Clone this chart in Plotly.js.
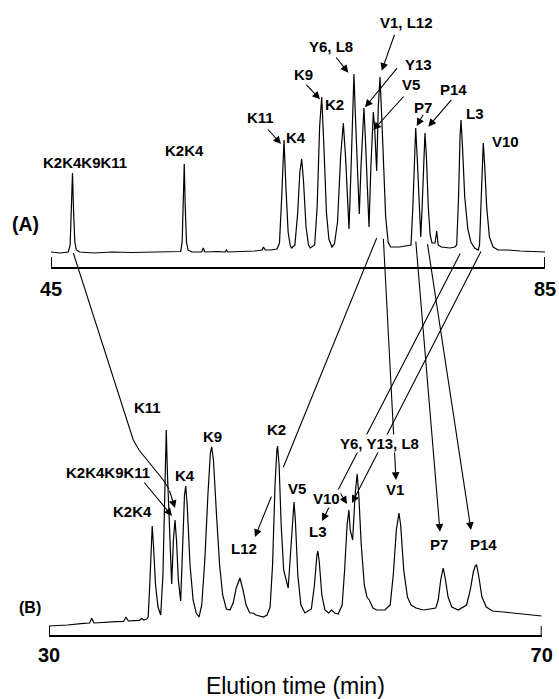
<!DOCTYPE html>
<html><head><meta charset="utf-8">
<script src="https://cdn.plot.ly/plotly-3.0.1.min.js"></script>
<style>html,body{margin:0;padding:0;background:#fff}#chart{width:559px;height:699px}</style>
</head><body><div id="chart"></div>
<script>
// ---------- DATA ----------
// Panel (A): elution time (min) and detector signal (arbitrary units)
const timeA = [45.00,45.70,46.40,46.55,46.65,46.74,46.83,46.93,47.05,47.30,48.50,50.00,51.50,53.00,54.50,
  55.50,55.62,55.72,55.79,55.87,55.97,56.10,56.40,57.20,57.33,57.45,58.50,59.10,59.20,59.30,60.50,61.50,62.10,62.20,62.35,62.80,
  63.30,63.50,63.68,63.87,64.02,64.20,64.38,64.50,64.75,64.98,65.15,65.30,65.45,65.65,65.85,66.00,
  66.35,66.55,66.75,66.92,67.10,67.30,67.50,67.75,67.95,68.20,68.45,68.67,68.85,69.00,69.13,
  69.30,69.45,69.53,69.62,69.80,69.96,70.10,70.25,70.34,70.45,70.60,70.75,70.90,71.02,71.10,71.20,71.37,
  71.50,71.64,71.78,71.95,72.10,72.30,72.50,73.20,73.80,74.15,74.30,74.45,74.53,74.65,74.80,74.94,
  75.05,75.18,75.28,75.40,75.55,75.70,75.85,76.10,76.23,76.35,76.60,77.30,77.70,77.85,78.00,78.12,78.20,
  78.32,78.50,78.75,79.00,79.30,79.60,79.70,79.82,79.93,80.00,80.10,80.28,80.50,80.80,81.20,82.00,83.00,84.00,85.00];
const signalA = [15,14,15,22,60,94,55,25,17,15,14,15,14.5,15,15.5,
  15.5,25,70,103,60,25,17,15,15,19,15,15.5,15,17,15,15.5,16,17,20,17,17,
  18,24,70,127,80,35,21,19,22,55,95,108,85,40,22,19,
  22,60,140,170,120,55,28,20,23,45,110,144,110,65,38,
  100,170,193,160,95,53,100,145,159,130,80,40,100,140,155,140,96,
  160,190,150,90,50,25,20,20,21,22,60,125,139,110,60,30,
  60,115,134,110,60,32,24,24,36,22,20,19,20,22,70,130,147,
  120,70,38,25,19,17,22,60,110,124,105,60,30,20,17,17,16,15.5,15];

// Panel (B)
const timeB = [30.00,31.50,32.80,33.30,33.47,33.65,35.50,36.05,36.25,36.45,36.84,37.35,37.52,37.70,37.93,
  38.05,38.18,38.30,38.38,38.48,38.65,38.85,39.07,39.25,39.42,39.52,39.62,39.80,39.96,
  40.10,40.23,40.35,40.50,40.69,40.85,41.00,41.10,41.22,41.45,41.70,41.95,42.18,
  42.40,42.65,42.90,43.10,43.21,43.35,43.60,43.85,44.10,44.40,44.69,44.95,45.20,45.50,45.75,46.00,46.30,46.56,46.80,47.40,
  47.70,47.95,48.15,48.35,48.50,48.56,48.68,48.85,49.05,49.42,49.60,49.80,49.89,50.00,50.20,50.45,50.78,
  51.30,51.55,51.75,51.83,51.95,52.15,52.40,52.70,52.95,53.20,53.48,53.80,54.00,54.20,54.35,54.45,54.65,
  54.85,55.02,55.15,55.35,55.60,55.81,56.00,56.30,56.60,57.27,57.70,57.95,58.20,58.41,58.55,58.80,59.10,59.40,59.80,
  60.40,61.00,61.40,61.60,61.80,62.00,62.15,62.40,62.70,63.22,63.50,63.90,64.20,64.45,64.60,64.72,64.90,65.15,65.50,66.00,66.88,68.50,70.00];
const signalB = [9,10,11.7,12,16.7,12,13.3,13.5,17.7,14,14.3,14.5,16.7,15,16,
  18,50,95,109,90,50,28,20,60,170,205,160,90,51,
  95,115,95,55,34,80,140,149,130,70,35,22,18,
  30,75,140,182,188,175,120,70,40,26,25,32,47,57,45,30,22,22,20,18,
  20,28,70,150,185,189,170,110,65,47,80,125,133,115,60,30,22,
  26,50,80,84,72,40,25,22,25,22,21,30,65,110,125,105,95,
  140,161,140,90,50,38,35,27,25,25,30,60,105,122,110,65,38,30,27,
  25,26,27,35,55,67,58,38,28,25,27,30,45,63,69,70,58,38,28,24,23,21,19];

const tickValsA = [45, 85];
const tickValsB = [30, 70];
const xTitle = "Elution time (min)";
const peakNamesA = ["K2K4K9K11","K2K4","K11","K4","K9","K2","Y6, L8","V1, L12","Y13","V5","P7","P14","L3","V10"];
const peakNamesB = ["K11","K2K4K9K11","K2K4","K4","K9","K2","L12","V5","Y6, Y13, L8","V10","L3","V1","P7","P14"];

// ---------- LAYOUT ----------
const W = 559, H = 699;
const PX = x => x / W, PY = y => 1 - y / H;
const FONT = "Liberation Sans, Arial, Helvetica, sans-serif";

// label centres (pixels)
const posA = [[84.5,162],[184,150],[260,117],[295.5,137],[303.3,74],[334.5,104.3],[331,46.7],[406.7,22.7],
  [418.3,65],[410.8,85],[423.3,107.3],[453.7,89.3],[474.7,113.3],[505,141.7]];
const posB = [[147.5,407],[108,472.5],[132.3,511.7],[185,475.5],[212.4,436],[276.3,429.3],[244.3,548.3],
  [296.7,488],[379,443],[326.7,498.5],[317.5,531.7],[394.5,489],[439.3,544],[483.3,544]];
const maskB = {"Y6, Y13, L8": true, "V10": true};

// arrows: tail x, tail y, tip x, tip y (pixels)
const arrows = [
  [266.7,128,281,144],[305,83.3,320,99.3],[335,56,348.3,72.7],[395,33.3,381.7,70.7],
  [398.3,66.7,365,107.3],[405,95,373.3,130],[424,113.3,416.7,126],[452.7,98.3,428.3,126.7],
  [415.7,240,440,531.7],[427.3,242.7,471,530],[461,252,322,521],[481.7,250,352,503],
  [383.3,237.3,396,480],[272,495,255,537],[169,489,175,508],[143,481,172,516],[339,491,347,504]
];

const annotations = [];
arrows.forEach(a => annotations.push({
  xref:'paper', yref:'paper', x:PX(a[2]), y:PY(a[3]), ax:a[0]-a[2], ay:a[1]-a[3],
  text:'', showarrow:true, arrowhead:2, arrowsize:1.4, arrowwidth:1.1, arrowcolor:'black',
  standoff:0, startstandoff:0
}));
function label(t, p, size, weight, bg) {
  const o = {xref:'paper', yref:'paper', x:PX(p[0]), y:PY(p[1]), text:t, showarrow:false,
    xanchor:'center', yanchor:'middle', borderpad:0,
    font:{family:FONT, size:size, color:'black', weight:weight}};
  if (bg) o.bgcolor = 'white';
  return o;
}
peakNamesA.forEach((n,i) => annotations.push(label(n, posA[i], 15, 'bold', false)));
peakNamesB.forEach((n,i) => annotations.push(label(n, posB[i], 15, 'bold', !!maskB[n])));
annotations.push(label('(A)', [25.8,224], 19.5, 'bold', false));
annotations.push(label('(B)', [30,607], 16, 'bold', false));

function path(pts) {
  return pts.map((p,i) => (i ? 'L' : 'M') + PX(p[0]).toFixed(5) + ',' + PY(p[1]).toFixed(5)).join(' ');
}
const shapes = [
  {type:'line', xref:'paper', yref:'paper', x0:PX(376.7), y0:PY(238), x1:PX(283.3), y1:PY(467.3),
   line:{color:'black', width:1.1}},
  {type:'path', xref:'paper', yref:'paper',
   path:path([[73.3,253],[133.3,440],[139,450],[163.3,480],[169,489]]), line:{color:'black', width:1.1}}
];
// end ticks of the two time axes (drawn upward from the axis line)
tickValsA.forEach(v => shapes.push({type:'line', xref:'x', yref:'paper', x0:v, x1:v,
  y0:PY(267), y1:PY(257), line:{color:'black', width:2}}));
tickValsB.forEach(v => shapes.push({type:'line', xref:'x2', yref:'paper', x0:v, x1:v,
  y0:PY(635), y1:PY(626), line:{color:'black', width:2}}));

const axisCommon = {
  showline:true, linecolor:'black', linewidth:2, ticks:'', showgrid:false, zeroline:false, fixedrange:true,
  tickfont:{family:FONT, size:20, color:'black', weight:'bold'}
};

const layout = {
  width:W, height:H, margin:{l:0, r:0, t:0, b:0}, showlegend:false,
  paper_bgcolor:'white', plot_bgcolor:'white',
  xaxis: Object.assign({}, axisCommon, {domain:[PX(51), PX(545)], range:[45,85], anchor:'y',
    tickvals:tickValsA, ticktext:tickValsA.map(String), ticklabelstandoff:3}),
  yaxis: {domain:[PY(267), 1], range:[0,267], visible:false, fixedrange:true},
  xaxis2: Object.assign({}, axisCommon, {domain:[PX(49), PX(541.7)], range:[30,70], anchor:'y2',
    tickvals:tickValsB, ticktext:tickValsB.map(String), ticklabelstandoff:1,
    title:{text:xTitle, font:{family:FONT, size:23, color:'black'}, standoff:14}}),
  yaxis2: {domain:[PY(635), PY(300)], range:[0,335], visible:false, fixedrange:true},
  annotations: annotations,
  shapes: shapes
};

const traces = [
  {type:'scatter', mode:'lines', x:timeA, y:signalA, xaxis:'x', yaxis:'y',
   line:{color:'black', width:1.2}, hoverinfo:'skip', cliponaxis:true},
  {type:'scatter', mode:'lines', x:timeB, y:signalB, xaxis:'x2', yaxis:'y2',
   line:{color:'black', width:1.2}, hoverinfo:'skip', cliponaxis:true}
];

Plotly.newPlot('chart', traces, layout, {staticPlot:true, displayModeBar:false});
</script></body></html>
